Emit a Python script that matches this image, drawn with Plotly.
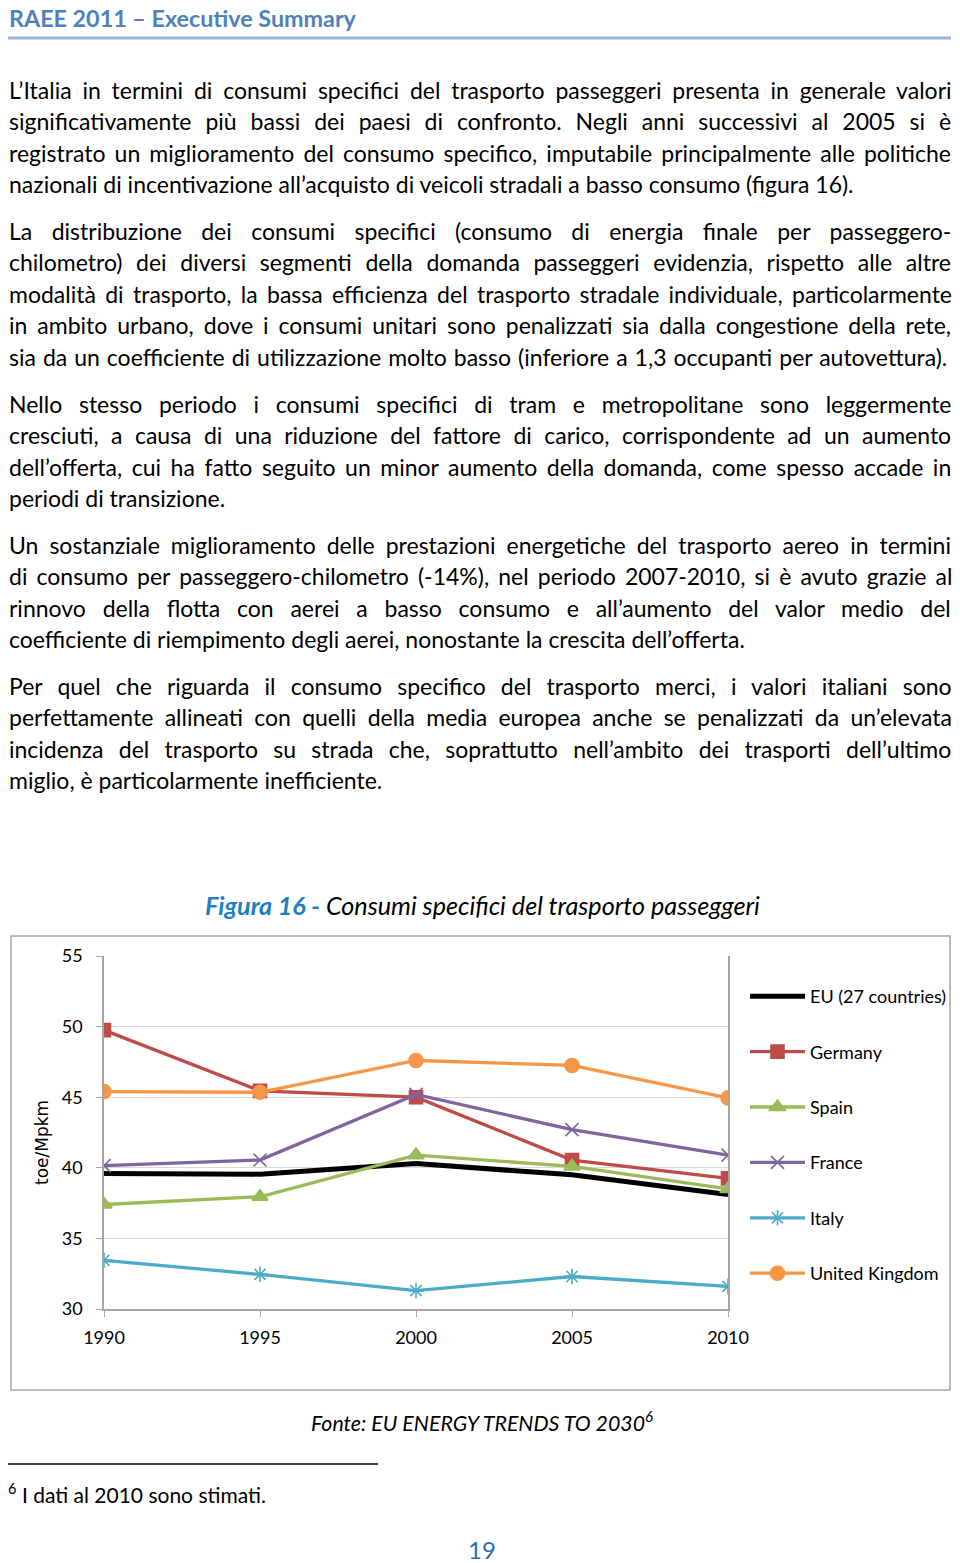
import plotly.graph_objects as go

W, H = 960, 1563
OFF = 8  # page body margin compensation
def X(px): return (px - OFF) / W
def Y(py): return 1 - (py - OFF) / H

years = [1990, 1995, 2000, 2005, 2010]
eu = [39.6, 39.55, 40.3, 39.5, 38.1]
germany = [49.75, 45.45, 45.0, 40.55, 39.25]
spain = [37.4, 37.95, 40.9, 40.1, 38.5]
france = [40.15, 40.55, 45.2, 42.7, 40.9]
italy = [33.45, 32.45, 31.3, 32.3, 31.6]
uk = [45.4, 45.35, 47.6, 47.25, 44.95]

series = [
    ("EU (27 countries)", eu, "#000000", None, 5, 0),
    ("Germany", germany, "#BE4B48", "square", 3.3, 13),
    ("Spain", spain, "#9BBB59", "triangle-up", 3.3, 14),
    ("France", france, "#8064A2", "x-thin-open", 3.3, 13),
    ("Italy", italy, "#4BACC6", "asterisk-open", 3.3, 13),
    ("United Kingdom", uk, "#F79646", "circle", 3.3, 14),
]

paragraphs = [
    ["L’Italia in termini di consumi specifici del trasporto passeggeri presenta in generale valori",
     "significativamente più bassi dei paesi di confronto. Negli anni successivi al 2005 si è",
     "registrato un miglioramento del consumo specifico, imputabile principalmente alle politiche",
     "nazionali di incentivazione all’acquisto di veicoli stradali a basso consumo (figura 16)."],
    ["La distribuzione dei consumi specifici (consumo di energia finale per passeggero-",
     "chilometro) dei diversi segmenti della domanda passeggeri evidenzia, rispetto alle altre",
     "modalità di trasporto, la bassa efficienza del trasporto stradale individuale, particolarmente",
     "in ambito urbano, dove i consumi unitari sono penalizzati sia dalla congestione della rete,",
     "sia da un coefficiente di utilizzazione molto basso (inferiore a 1,3 occupanti per autovettura)."],
    ["Nello stesso periodo i consumi specifici di tram e metropolitane sono leggermente",
     "cresciuti, a causa di una riduzione del fattore di carico, corrispondente ad un aumento",
     "dell’offerta, cui ha fatto seguito un minor aumento della domanda, come spesso accade in",
     "periodi di transizione."],
    ["Un sostanziale miglioramento delle prestazioni energetiche del trasporto aereo in termini",
     "di consumo per passeggero-chilometro (-14%), nel periodo 2007-2010, si è avuto grazie al",
     "rinnovo della flotta con aerei a basso consumo e all’aumento del valor medio del",
     "coefficiente di riempimento degli aerei, nonostante la crescita dell’offerta."],
    ["Per quel che riguarda il consumo specifico del trasporto merci, i valori italiani sono",
     "perfettamente allineati con quelli della media europea anche se penalizzati da un’elevata",
     "incidenza del trasporto su strada che, soprattutto nell’ambito dei trasporti dell’ultimo",
     "miglio, è particolarmente inefficiente."],
]
# extra word spacing (px) per line, to emulate justified text
word_spacing = [
    [4.95, 8.03, 3.24, 0],
    [13.54, 7.77, 3.44, 4.06, 1.1],
    [10.82, 6.51, 3.65, 0],
    [5.09, 3.26, 10.88, 0],
    [9.29, 5.41, 9.42, 0],
]
para_tops = [90, 231, 404, 545, 686]
LINE = 31.45

FONT = "Lato"
fig = go.Figure()
for name, vals, col, sym, lw, ms in series:
    fig.add_trace(go.Scatter(
        x=years, y=vals, name=name, legendgroup=name,
        mode="lines" if sym is None else "lines+markers",
        line=dict(color=col, width=lw),
        marker=dict(symbol=sym or "circle", size=ms, color=col,
                    line=dict(color=col, width=1.6)),
    ))

annotations = []
annotations.append(dict(x=X(7), y=Y(18.5), xref="paper", yref="paper", xanchor="left", yanchor="middle",
                        text="<b>RAEE 2011 – Executive Summary</b>", showarrow=False,
                        font=dict(family=FONT, size=23.3, color="#4F81BD")))
for top, lines, sps in zip(para_tops, paragraphs, word_spacing):
    for i, (ln, sp) in enumerate(zip(lines, sps)):
        annotations.append(dict(x=X(7), y=Y(top + i * LINE), xref="paper", yref="paper",
                                xanchor="left", yanchor="middle",
                                text=f"<span style='word-spacing:{sp}px'>{ln}</span>", showarrow=False,
                                font=dict(family=FONT, size=23, color="#000000")))
annotations.append(dict(x=X(482), y=Y(905), xref="paper", yref="paper", xanchor="center", yanchor="middle",
                        text="<i><b><span style='color:#1F7FC4'>Figura 16 -</span></b> Consumi specifici del trasporto passeggeri</i>",
                        showarrow=False, font=dict(family=FONT, size=25.2, color="#000000")))
annotations.append(dict(x=X(42), y=Y(1143), xref="paper", yref="paper", xanchor="center", yanchor="middle",
                        text="toe/Mpkm", textangle=-90, showarrow=False,
                        font=dict(family="DejaVu Sans", size=17, color="#000000")))
annotations.append(dict(x=X(482), y=Y(1421), xref="paper", yref="paper", xanchor="center", yanchor="middle",
                        text="<i>Fonte: EU ENERGY TRENDS TO 2030<sup>6</sup></i>", showarrow=False,
                        font=dict(family=FONT, size=21.3, color="#000000")))
annotations.append(dict(x=X(6), y=Y(1493), xref="paper", yref="paper", xanchor="left", yanchor="middle",
                        text="<sup>6</sup> I dati al 2010 sono stimati.", showarrow=False,
                        font=dict(family=FONT, size=21, color="#000000")))
annotations.append(dict(x=X(482), y=Y(1549), xref="paper", yref="paper", xanchor="center", yanchor="middle",
                        text="19", showarrow=False,
                        font=dict(family=FONT, size=24, color="#1F6FB5")))

shapes = [
    dict(type="line", xref="paper", yref="paper", x0=X(8), x1=X(951), y0=Y(38), y1=Y(38),
         line=dict(color="#95B3D7", width=3)),
    dict(type="rect", xref="paper", yref="paper", x0=X(11), x1=X(950), y0=Y(936), y1=Y(1390),
         line=dict(color="#A6A6A6", width=1.5)),
    dict(type="line", xref="paper", yref="paper", x0=X(8), x1=X(378), y0=Y(1464), y1=Y(1464),
         line=dict(color="#000000", width=1.5)),
]

fig.update_layout(
    width=W, height=H, margin=dict(l=0, r=0, t=0, b=0, autoexpand=False),
    paper_bgcolor="white", plot_bgcolor="white",
    font=dict(family=FONT, size=18, color="#000000"),
    xaxis=dict(domain=[X(104), X(728)], range=[1990, 2010], tickvals=years,
               showgrid=False, showline=True, linecolor="#A6A6A6", linewidth=1.5,
               ticks="outside", ticklen=6, tickcolor="#A6A6A6", zeroline=False,
               tickfont=dict(family=FONT, size=18), ticklabelstandoff=6),
    yaxis=dict(domain=[Y(1309), Y(956)], range=[30, 55], tickvals=[30, 35, 40, 45, 50, 55],
               showgrid=True, gridcolor="#D9D9D9", gridwidth=1.2,
               showline=True, linecolor="#A6A6A6", linewidth=1.5, mirror=True,
               ticks="outside", ticklen=6, tickcolor="#A6A6A6", zeroline=False,
               tickfont=dict(family=FONT, size=18), ticklabelstandoff=10),
    legend=dict(x=X(745), y=Y(978), xanchor="left", yanchor="top", traceorder="grouped",
                tracegroupgap=29, itemwidth=55, font=dict(family=FONT, size=18),
                bgcolor="rgba(0,0,0,0)"),
    annotations=annotations, shapes=shapes,
)

fig.write_html("out.html")
